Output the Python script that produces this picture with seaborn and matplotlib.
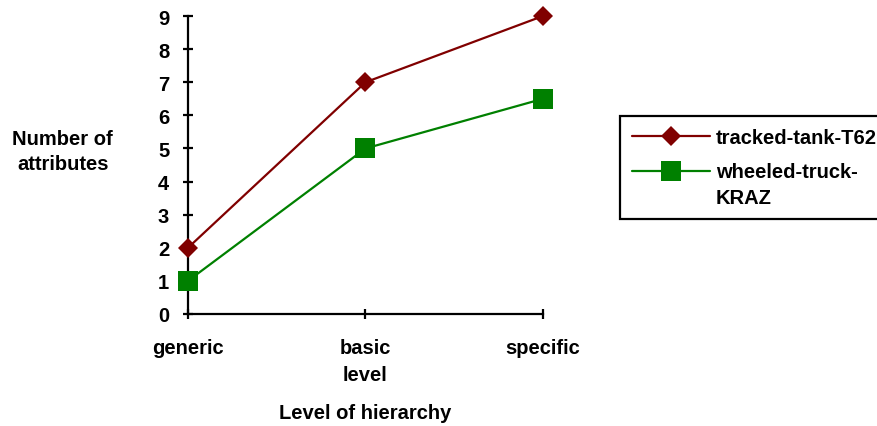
import matplotlib
matplotlib.use("Agg")
import matplotlib.pyplot as plt
from matplotlib.legend_handler import HandlerLine2D
import seaborn as sns
import pandas as pd
import numpy as np

# Data
levels = ["generic", "basic\nlevel", "specific"]
tank_t62 = [2, 7, 9]
truck_kraz = [1, 5, 6.5]
series_names = ["tracked-tank-T62", "wheeled-truck-\nKRAZ"]
y_ticks = list(range(0, 10))

df = pd.DataFrame({
    "level": levels * 2,
    "value": tank_t62 + truck_kraz,
    "series": [series_names[0]] * 3 + [series_names[1]] * 3,
})

sns.set_theme(style="white")
plt.rcParams["font.family"] = ["Liberation Sans", "DejaVu Sans"]
plt.rcParams["font.weight"] = "bold"
plt.rcParams["text.color"] = "black"
plt.rcParams["xtick.color"] = "black"
plt.rcParams["ytick.color"] = "black"
plt.rcParams["axes.labelcolor"] = "black"

FS = 14.5

fig = plt.figure(figsize=(8.78, 4.27), dpi=100)
ax = fig.add_axes([188 / 878, 1 - 315 / 427, (543 - 188) / 878, (315 - 17) / 427])

palette = {series_names[0]: "#800000", series_names[1]: "#008000"}
markers = {series_names[0]: "D", series_names[1]: "s"}

sns.lineplot(data=df, x="level", y="value", hue="series", style="series",
             palette=palette, markers=markers, dashes=False, linewidth=1.6,
             ax=ax, legend=False, sort=False)

sizes = {series_names[0]: 10.5, series_names[1]: 15}
for line, name in zip(ax.lines, series_names):
    c = palette[name]
    line.set_markersize(sizes[name])
    line.set_markeredgecolor(c)
    line.set_markerfacecolor(c)
    line.set_markeredgewidth(0)
    line.set_clip_on(False)
    line.set_label(name)
    line.set_zorder(3)

ax.set_xlim(0, len(levels) - 1)
ax.set_ylim(0, 9)
ax.set_yticks(y_ticks)
ax.set_xticks(range(len(levels)))
ax.set_xticklabels(levels, fontsize=FS, fontweight="bold", linespacing=1.5)
ax.set_yticklabels([str(t) for t in y_ticks], fontsize=FS, fontweight="bold")

for s in ["top", "right"]:
    ax.spines[s].set_visible(False)
for s in ["left", "bottom"]:
    ax.spines[s].set_color("black")
    ax.spines[s].set_linewidth(1.6)
    ax.spines[s].set_zorder(2)

ax.tick_params(axis="both", direction="inout", length=7, width=1.6, color="black",
               left=True, bottom=True)
ax.tick_params(axis="x", pad=14)
ax.tick_params(axis="y", pad=10)

ax.set_ylabel("Number of\nattributes", rotation=0, fontsize=FS, fontweight="bold",
              ha="center", va="center", linespacing=1.45)
ax.yaxis.set_label_coords(-0.353, 0.547)
ax.set_xlabel("Level of hierarchy", fontsize=FS, fontweight="bold", va="center")
ax.xaxis.set_label_coords(0.5, -0.329)


class FirstLineHandler(HandlerLine2D):
    """Line handler whose sample sits beside the first line of a wrapped label."""

    def __init__(self, shift=0.0, **kw):
        super().__init__(**kw)
        self.shift = shift

    def create_artists(self, legend, orig_handle, xdescent, ydescent, width,
                       height, fontsize, trans):
        artists = super().create_artists(legend, orig_handle, xdescent, ydescent,
                                         width, height, fontsize, trans)
        for a in artists:
            a.set_ydata(np.asarray(a.get_ydata(), dtype=float) + self.shift)
        return artists


handler_map = {ax.lines[0]: HandlerLine2D(),
               ax.lines[1]: FirstLineHandler(shift=10.0)}

leg = ax.legend(handles=ax.lines, labels=series_names, loc="upper left",
                bbox_to_anchor=(620 / 878, 1 - 117 / 427),
                bbox_transform=fig.transFigure, borderaxespad=0,
                frameon=True, fancybox=False, framealpha=1.0, fontsize=FS,
                handlelength=3.85, handletextpad=0.3, borderpad=0.6,
                labelspacing=0.75, handler_map=handler_map)
leg.get_frame().set_edgecolor("black")
leg.get_frame().set_linewidth(1.6)
for t in leg.get_texts():
    t.set_fontweight("bold")
    t.set_linespacing(1.45)

fig.savefig("out.png", dpi=100)
